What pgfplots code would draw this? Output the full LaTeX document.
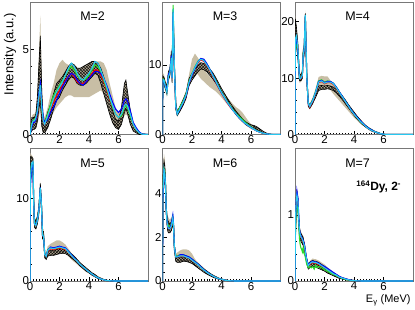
\documentclass[border=0pt]{standalone}
\usepackage{fontspec}
\setmainfont{Liberation Sans}
\usepackage{pgfplots}
\usepackage{pgfplotstable}
\pgfplotsset{compat=1.18}
\usepgfplotslibrary{groupplots,fillbetween}
\usetikzlibrary{patterns,calc}
\definecolor{tanc}{RGB}{200,190,165}
\definecolor{redc}{RGB}{255,0,0}
\definecolor{greenc}{RGB}{40,220,40}
\definecolor{bluec}{RGB}{0,0,255}
\definecolor{cyanc}{RGB}{40,200,240}
\definecolor{framec}{RGB}{120,120,120}

\pgfplotstableread{
x tlo thi blo bhi r g b c
0.0 0 0 0 0 0 0 0 0
0.1 0.2 1.0 0.2 0.9 0.5 0.6 0.4 0.5
0.2 0.3 1.2 0.3 1.0 0.7 0.8 0.7 0.8
0.3 0.3 1.2 0.3 1.0 0.8 0.9 0.7 0.8
0.4 0.4 1.4 0.4 1.2 0.9 1.0 0.9 1.0
0.5 0.6 2.5 0.8 2.2 1.2 1.3 1.3 1.4
0.6 1.0 4.5 1.5 4.0 2.0 2.2 2.4 2.2
0.7 1.5 7.0 2.0 5.8 2.8 3.0 3.0 2.9
0.8 0.4 3.0 0.5 2.5 1.5 1.5 1.8 1.6
0.9 0.1 1.2 0.1 0.9 0.8 0.9 1.0 0.8
1.0 0.1 1.0 0.1 0.7 0.6 0.7 0.7 0.6
1.2 0.6 1.6 0.4 1.3 1.0 1.2 0.9 1.1
1.4 1.0 2.4 0.9 1.8 1.5 1.8 1.3 1.6
1.6 1.3 3.0 1.5 2.4 1.9 2.3 1.6 2.1
1.8 1.6 3.8 2.0 3.0 2.3 2.6 2.0 2.5
2.0 1.8 4.2 2.2 3.2 2.6 2.9 2.4 2.8
2.2 2.0 4.4 2.6 3.4 2.9 3.2 2.8 3.1
2.4 2.2 4.2 2.9 3.7 3.2 3.5 3.1 3.5
2.6 2.3 4.1 3.2 4.0 3.4 3.8 3.4 3.9
2.8 2.3 4.0 3.4 4.2 3.6 4.0 3.6 4.2
3.0 2.2 3.9 3.3 4.1 3.4 3.8 3.5 4.0
3.2 2.2 3.8 3.0 3.9 3.1 3.5 3.2 3.6
3.4 2.2 3.7 2.9 3.9 3.0 3.3 3.0 3.3
3.6 2.2 3.7 2.9 4.0 3.0 3.2 2.9 3.2
3.8 2.2 3.8 3.0 4.1 3.1 3.3 3.1 3.4
4.0 2.2 3.9 3.2 4.2 3.3 3.5 3.3 3.6
4.2 2.3 4.1 3.4 4.3 3.6 3.8 3.5 3.9
4.4 2.4 4.3 3.6 4.3 3.8 4.1 3.7 4.3
4.6 2.5 4.3 3.5 4.2 3.8 4.0 3.7 4.2
4.8 2.6 4.3 3.0 3.9 3.5 3.7 3.6 3.8
5.0 2.4 4.2 2.4 3.4 3.1 3.2 3.3 3.3
5.2 2.0 3.8 1.8 2.8 2.6 2.7 2.9 2.8
5.4 1.4 3.0 1.2 2.1 2.1 2.2 2.4 2.2
5.6 0.9 2.3 0.7 1.4 1.6 1.6 1.9 1.7
5.8 0.6 1.6 0.4 0.9 1.2 1.2 1.5 1.2
6.0 0.6 1.3 0.3 0.8 1.0 1.0 1.3 1.0
6.2 0.8 1.6 0.6 1.6 1.2 1.1 1.5 1.2
6.4 1.1 2.3 1.3 3.0 1.7 1.6 2.0 1.7
6.5 1.2 2.6 1.5 3.2 1.8 1.7 2.1 1.8
6.6 1.1 2.3 1.3 2.6 1.7 1.6 2.0 1.7
6.8 0.7 1.6 0.6 1.4 1.2 1.1 1.4 1.2
7.0 0.3 0.8 0.2 0.6 0.6 0.6 0.7 0.6
7.2 0.1 0.4 0.1 0.3 0.3 0.3 0.4 0.3
7.4 0.0 0.2 0.0 0.1 0.1 0.1 0.15 0.1
7.6 0 0.05 0 0.05 0.02 0.02 0.03 0.02
8.0 0 0 0 0 0 0 0 0
}\tabA

\pgfplotstableread{
x tlo thi blo bhi r g b c
0.0 0 0 0 0 0 0 0 0
0.02 7.0 8.8 7.4 8.4 7.9 8.0 7.8 7.9
0.1 7.0 8.6 7.2 8.2 7.7 7.8 7.6 7.8
0.2 6.2 7.6 6.5 7.4 6.9 7.0 6.9 6.8
0.3 5.4 7.2 5.8 7.0 6.4 6.6 6.5 6.0
0.4 7.5 9.2 7.8 9.0 8.4 8.5 8.6 8.3
0.5 8.2 9.6 8.4 9.4 8.9 9.0 9.0 8.8
0.6 10.0 12.2 10.5 12.0 11.0 11.2 11.3 11.0
0.65 7.0 9.0 7.4 8.6 8.0 8.2 8.1 8.0
0.72 16.0 18.4 16.5 18.0 17.3 18.6 17.6 18.0
0.8 8.5 11.0 9.0 10.5 9.8 10.2 10.0 10.0
0.9 3.5 4.8 3.6 4.6 4.0 4.2 4.1 4.0
1.0 2.6 3.4 2.7 3.3 3.0 3.1 3.0 2.9
1.2 3.3 4.3 3.4 4.1 3.8 4.0 3.7 3.8
1.4 4.1 5.2 4.2 5.0 4.6 4.8 4.6 4.6
1.6 5.0 6.3 5.2 6.0 5.6 5.8 5.6 5.7
1.8 6.8 8.6 7.0 8.0 7.5 7.6 7.4 7.5
2.0 8.2 10.8 7.8 8.8 8.6 8.7 8.5 8.7
2.2 9.0 11.6 8.4 9.4 9.6 9.7 9.5 9.6
2.4 8.6 11.0 9.0 9.9 10.3 10.5 10.4 10.4
2.6 8.0 10.2 9.4 10.3 10.7 10.9 10.9 10.8
2.8 7.6 9.4 9.3 10.2 10.5 10.7 10.8 10.6
3.0 7.2 8.8 9.0 9.9 9.9 10.1 10.2 10.0
3.2 6.8 8.3 8.5 9.4 9.2 9.4 9.4 9.3
3.4 6.5 7.9 8.0 8.9 8.4 8.6 8.6 8.5
3.6 6.2 7.4 7.4 8.2 7.6 7.8 7.7 7.7
3.8 5.8 6.9 6.7 7.4 6.7 6.9 6.8 6.8
4.0 5.3 6.3 6.0 6.6 5.9 6.1 6.0 6.0
4.2 4.8 5.8 5.3 5.9 5.2 5.4 5.3 5.3
4.4 4.3 5.3 4.6 5.2 4.5 4.7 4.6 4.6
4.6 3.8 4.8 4.0 4.5 3.9 4.1 4.0 4.0
4.8 3.3 4.3 3.4 3.9 3.4 3.5 3.4 3.4
5.0 2.8 3.9 2.8 3.3 2.9 3.0 2.9 2.9
5.2 2.3 3.6 2.3 2.8 2.4 2.6 2.4 2.4
5.4 1.8 3.2 1.9 2.3 2.0 2.2 2.0 2.0
5.6 1.4 2.6 1.5 1.9 1.6 1.8 1.6 1.6
5.8 1.1 2.0 1.2 1.6 1.3 1.4 1.3 1.3
6.0 0.8 1.5 1.0 1.4 1.0 1.1 1.0 1.0
6.2 0.6 1.1 0.8 1.3 0.75 0.8 0.75 0.75
6.4 0.4 0.8 0.6 1.1 0.5 0.55 0.5 0.5
6.6 0.25 0.5 0.4 0.8 0.35 0.38 0.35 0.35
6.8 0.1 0.3 0.2 0.5 0.2 0.2 0.2 0.2
7.0 0.05 0.15 0.08 0.25 0.1 0.1 0.1 0.1
7.2 0.02 0.08 0.03 0.1 0.05 0.05 0.05 0.05
7.4 0 0.03 0 0.04 0.02 0.02 0.02 0.02
7.6 0 0 0 0 0 0 0 0
8.0 0 0 0 0 0 0 0 0
}\tabB

\pgfplotstableread{
x tlo thi blo bhi r g b c
0.0 0 0 0 0 0 0 0 0
0.02 14 21 15 20.5 16 15 16 17
0.1 15 19 16 19 17 16.5 17 17.5
0.2 13 16.5 13.5 16 15 14.5 14.5 15
0.3 9.2 11 9.5 10.8 10 10.2 10.1 9.9
0.4 9.3 10.8 9.5 10.5 9.9 10.1 10 10
0.5 9.8 11.5 10 11.2 10.5 10.7 10.6 10.5
0.55 12.5 15.5 13 15 14 14.3 14 14
0.62 13.5 16 14 15.5 15 15.2 15 15
0.7 19.5 22 20 21.5 20.8 21 21 21.2
0.8 9 11 9.2 10.8 10 10.2 10 10
0.9 4.8 6 5 5.8 5.4 5.6 5.5 5.5
1.0 4.5 5.4 4.6 5.2 4.8 5.0 5.0 5.0
1.2 5.4 6.6 5.5 6.2 5.9 6.1 6.0 6.0
1.4 6.8 8.2 6.6 7.5 7.4 7.6 7.5 7.5
1.6 8.5 10.2 7.8 8.6 9.2 9.5 9.4 9.3
1.8 8.7 10.4 8.0 8.7 9.4 9.7 9.6 9.5
2.0 8.5 10.3 8.0 8.6 9.0 9.3 9.2 9.1
2.2 8.4 10.3 8.1 8.7 9.2 9.5 9.4 9.3
2.4 7.9 9.6 8.0 8.6 9.2 9.4 9.4 9.3
2.6 7.2 8.8 7.8 8.4 8.9 9.1 9.1 9.0
2.8 6.6 8.0 7.4 8.0 8.2 8.4 8.4 8.3
3.0 6.0 7.2 6.8 7.5 7.5 7.6 7.6 7.5
3.2 5.4 6.5 6.2 6.9 6.7 6.8 6.8 6.7
3.4 4.8 5.8 5.5 6.2 5.9 6.0 6.0 5.9
3.6 4.2 5.1 4.8 5.4 5.1 5.2 5.2 5.1
3.8 3.6 4.5 4.1 4.7 4.3 4.4 4.4 4.3
4.0 3.0 3.8 3.4 4.0 3.6 3.7 3.7 3.6
4.2 2.5 3.2 2.8 3.3 3.0 3.0 3.1 3.0
4.4 2.0 2.7 2.2 2.7 2.4 2.4 2.5 2.4
4.6 1.6 2.2 1.7 2.1 1.9 1.9 2.0 1.9
4.8 1.2 1.7 1.3 1.6 1.4 1.5 1.5 1.4
5.0 0.9 1.3 0.9 1.2 1.0 1.1 1.1 1.0
5.2 0.6 0.9 0.6 0.9 0.7 0.8 0.8 0.7
5.4 0.4 0.6 0.4 0.6 0.5 0.5 0.5 0.5
5.6 0.2 0.4 0.2 0.4 0.3 0.3 0.3 0.3
5.8 0.1 0.2 0.1 0.2 0.15 0.15 0.15 0.15
6.0 0.02 0.08 0.02 0.08 0.05 0.05 0.05 0.05
6.2 0 0 0 0 0 0 0 0
8.0 0 0 0 0 0 0 0 0
}\tabC

\pgfplotstableread{
x tlo thi blo bhi r g b c
0.0 0 0 0 0 0 0 0 0
0.02 11 15.5 12 15 12 12.5 11 12
0.1 12.5 15.2 13 15 13.8 14 13.5 14.2
0.2 13 15 13.2 14.8 14 14.2 14 14.4
0.25 8.5 10.5 8.8 10.2 9.5 9.8 9.6 9.5
0.3 6.4 7.8 6.5 7.6 7.0 7.1 7.0 6.9
0.4 6.2 7.4 6.3 7.2 6.8 6.9 6.8 6.7
0.5 6.8 8.0 6.9 7.8 7.4 7.5 7.4 7.3
0.6 7.8 9.2 8.0 9.0 8.5 8.6 8.5 8.4
0.7 10.5 12.0 10.7 11.8 11.2 11.3 11.3 11.2
0.78 8.2 9.8 8.4 9.5 9.0 9.1 9.0 9.0
0.85 5.0 6.2 5.1 6.0 5.5 5.6 5.5 5.5
0.92 4.8 6.3 5.0 6.0 5.4 5.5 5.4 5.4
1.0 2.9 3.5 2.8 3.3 3.2 3.2 3.2 3.2
1.1 2.7 3.4 2.6 3.1 3.0 3.0 3.0 3.0
1.2 3.3 4.2 3.0 3.6 3.6 3.8 3.7 3.7
1.4 3.6 4.5 3.1 3.7 3.9 4.0 4.1 4.0
1.6 3.7 4.7 3.1 3.7 3.8 3.9 4.0 3.9
1.8 3.8 4.9 3.2 3.8 3.9 4.0 4.1 4.0
2.0 3.8 4.9 3.3 3.9 4.0 4.1 4.2 4.1
2.2 3.7 4.7 3.3 3.9 3.9 4.0 4.1 4.0
2.4 3.4 4.4 3.3 3.8 3.8 3.9 4.0 3.9
2.6 3.0 3.9 3.1 3.6 3.5 3.6 3.6 3.5
2.8 2.6 3.4 2.8 3.3 3.1 3.2 3.2 3.1
3.0 2.3 3.0 2.5 3.0 2.7 2.8 2.8 2.7
3.2 2.0 2.6 2.2 2.6 2.4 2.4 2.4 2.4
3.4 1.7 2.2 1.8 2.2 2.0 2.0 2.0 2.0
3.6 1.4 1.9 1.5 1.9 1.7 1.7 1.7 1.7
3.8 1.1 1.6 1.2 1.6 1.4 1.4 1.4 1.4
4.0 0.9 1.3 1.0 1.3 1.1 1.1 1.1 1.1
4.2 0.7 1.0 0.7 1.0 0.85 0.85 0.85 0.85
4.4 0.5 0.8 0.5 0.8 0.6 0.6 0.6 0.6
4.6 0.3 0.6 0.3 0.5 0.4 0.4 0.4 0.4
4.8 0.2 0.4 0.2 0.35 0.25 0.25 0.25 0.25
5.0 0.1 0.2 0.1 0.2 0.15 0.15 0.15 0.15
5.2 0.03 0.1 0.03 0.1 0.06 0.06 0.06 0.06
5.5 0 0.03 0 0.03 0.02 0.02 0.02 0.02
5.8 0 0 0 0 0 0 0 0
8.0 0 0 0 0 0 0 0 0
}\tabD

\pgfplotstableread{
x tlo thi blo bhi r g b c
0.0 0 0 0 0 0 0 0 0
0.03 3.5 5.0 3.6 4.8 4.0 4.2 3.8 4.0
0.1 4.6 5.8 4.7 5.5 5.0 5.1 5.0 5.1
0.15 4.5 5.6 4.6 5.3 4.9 5.0 4.9 4.9
0.2 4.0 5.0 4.1 4.8 4.4 4.5 4.4 4.4
0.25 3.0 3.8 3.1 3.6 3.3 3.4 3.3 3.3
0.3 2.6 3.1 2.6 3.0 2.7 2.8 2.8 2.7
0.35 2.3 3.0 2.3 2.8 2.5 2.6 2.5 2.5
0.4 2.2 2.9 2.2 2.7 2.4 2.5 2.4 2.4
0.5 2.2 2.8 2.2 2.6 2.4 2.5 2.4 2.4
0.6 2.3 2.9 2.3 2.7 2.5 2.6 2.6 2.5
0.7 2.6 3.1 2.6 3.0 2.8 2.8 3.0 2.9
0.75 2.3 2.8 2.3 2.7 2.5 2.5 2.6 2.5
0.8 1.4 1.8 1.4 1.7 1.6 1.6 1.6 1.6
0.9 0.95 1.25 0.9 1.15 1.1 1.1 1.1 1.1
1.0 0.95 1.3 0.85 1.1 1.1 1.15 1.1 1.1
1.2 1.0 1.4 0.85 1.1 1.15 1.2 1.2 1.15
1.4 1.0 1.45 0.9 1.1 1.15 1.2 1.2 1.15
1.6 0.95 1.45 0.9 1.1 1.1 1.15 1.15 1.1
1.8 0.9 1.4 0.85 1.05 1.05 1.1 1.1 1.05
2.0 0.8 1.25 0.8 1.0 0.95 1.0 1.0 0.95
2.2 0.7 1.0 0.7 0.9 0.85 0.88 0.88 0.85
2.4 0.6 0.85 0.6 0.8 0.75 0.77 0.78 0.75
2.6 0.5 0.72 0.5 0.68 0.62 0.64 0.65 0.62
2.8 0.4 0.6 0.4 0.56 0.5 0.52 0.52 0.5
3.0 0.32 0.48 0.32 0.46 0.4 0.41 0.42 0.4
3.2 0.25 0.38 0.25 0.36 0.31 0.32 0.32 0.31
3.5 0.15 0.25 0.15 0.24 0.2 0.2 0.2 0.2
3.8 0.08 0.15 0.08 0.14 0.11 0.11 0.11 0.11
4.0 0.05 0.1 0.05 0.1 0.08 0.08 0.08 0.08
4.3 0.02 0.05 0.02 0.05 0.03 0.03 0.03 0.03
4.6 0 0.02 0 0.02 0.01 0.01 0.01 0.01
5.0 0 0 0 0 0 0 0 0
8.0 0 0 0 0 0 0 0 0
}\tabE

\pgfplotstableread{
x tlo thi blo bhi r g b c
0.0 0 0 0 0 0 0 0 0
0.03 0.6 1.0 0.6 0.95 0.8 0.7 0.85 0.9
0.08 1.0 1.3 1.0 1.25 1.15 1.05 1.2 1.2
0.13 1.15 1.4 1.15 1.35 1.3 1.15 1.36 1.3
0.2 1.05 1.3 1.05 1.25 1.18 1.05 1.25 1.2
0.25 0.85 1.05 0.85 1.0 0.95 0.85 1.0 0.95
0.3 0.68 0.85 0.68 0.82 0.75 0.65 0.78 0.77
0.35 0.62 0.78 0.62 0.75 0.7 0.55 0.72 0.7
0.4 0.6 0.75 0.6 0.72 0.66 0.5 0.68 0.67
0.45 0.58 0.72 0.58 0.7 0.64 0.48 0.66 0.65
0.5 0.56 0.7 0.56 0.68 0.62 0.44 0.64 0.63
0.55 0.54 0.68 0.54 0.66 0.6 0.5 0.62 0.6
0.6 0.5 0.62 0.5 0.6 0.55 0.42 0.58 0.56
0.65 0.46 0.58 0.46 0.56 0.5 0.4 0.53 0.52
0.7 0.38 0.5 0.38 0.48 0.43 0.36 0.46 0.44
0.75 0.32 0.42 0.32 0.4 0.36 0.3 0.38 0.37
0.8 0.26 0.36 0.26 0.34 0.3 0.25 0.32 0.31
0.9 0.18 0.27 0.18 0.25 0.22 0.2 0.24 0.23
1.0 0.2 0.3 0.2 0.28 0.25 0.22 0.27 0.26
1.1 0.22 0.32 0.22 0.3 0.27 0.2 0.29 0.28
1.2 0.22 0.34 0.22 0.31 0.28 0.22 0.3 0.29
1.3 0.21 0.33 0.21 0.3 0.27 0.18 0.29 0.28
1.4 0.21 0.33 0.21 0.3 0.27 0.24 0.29 0.28
1.5 0.2 0.32 0.2 0.29 0.26 0.2 0.28 0.27
1.6 0.19 0.31 0.19 0.28 0.25 0.22 0.27 0.26
1.8 0.17 0.28 0.17 0.25 0.22 0.2 0.24 0.23
2.0 0.15 0.25 0.15 0.22 0.2 0.17 0.22 0.2
2.2 0.12 0.21 0.12 0.19 0.17 0.15 0.19 0.17
2.4 0.1 0.17 0.1 0.15 0.14 0.12 0.16 0.14
2.6 0.08 0.14 0.08 0.12 0.11 0.1 0.13 0.11
2.8 0.06 0.11 0.06 0.1 0.09 0.08 0.1 0.09
3.0 0.04 0.08 0.04 0.07 0.06 0.06 0.07 0.06
3.2 0.03 0.06 0.03 0.05 0.045 0.04 0.05 0.045
3.5 0.015 0.035 0.015 0.03 0.025 0.02 0.03 0.025
3.8 0.005 0.015 0.005 0.015 0.01 0.01 0.012 0.01
4.2 0 0.005 0 0.005 0.003 0.003 0.003 0.003
4.6 0 0 0 0 0 0 0 0
8.0 0 0 0 0 0 0 0 0
}\tabF

\newcommand{\panel}[1]{%
\addplot[draw=none,name path=tlo] table[x=x,y=tlo]{#1};
\addplot[draw=none,name path=thi] table[x=x,y=thi]{#1};
\addplot[tanc,draw=none] fill between[of=tlo and thi];
\addplot[draw=none,name path=blo] table[x=x,y=blo]{#1};
\addplot[draw=none,name path=bhi] table[x=x,y=bhi]{#1};
\addplot[tanc!85!black,draw=none] fill between[of=blo and bhi];
\addplot[pattern=crosshatch,pattern color=black,draw=none] fill between[of=blo and bhi];
\addplot[black,line width=0.6bp] table[x=x,y=blo]{#1};
\addplot[black,line width=0.6bp] table[x=x,y=bhi]{#1};
\addplot[redc,line width=1.1bp] table[x=x,y=r]{#1};
\addplot[greenc,line width=1.1bp] table[x=x,y=g]{#1};
\addplot[bluec,line width=1.1bp] table[x=x,y=b]{#1};
\addplot[cyanc,line width=1.1bp] table[x=x,y=c]{#1};
}
\newcommand{\mlab}[1]{\node[font=\fontsize{12.5}{13}\selectfont] at (rel axis cs:0.53,0.89) {#1};}

\begin{document}
\begin{tikzpicture}
\begin{groupplot}[
  group style={group size=3 by 2, horizontal sep=14.5bp, vertical sep=14bp},
  width=118bp, height=132.5bp, scale only axis,
  xmin=0, xmax=8, ymin=0,
  xtick={0,2,4,6}, minor x tick num=9, minor y tick num=4,
  tick align=inside, xtick pos=left, ytick pos=left,
  major tick length=4bp, minor tick length=2bp,
  axis line style={framec, line width=0.8bp},
  tick style={black, line width=0.5bp},
  /pgf/number format/assume math mode=true,
  tick label style={font=\fontsize{11.5}{12}\selectfont, inner sep=0.8bp},
  scaled y ticks=false,
  clip mode=individual,
  no markers, every axis plot/.append style={sharp plot},
]
\nextgroupplot[ymax=7.8, ytick={0,5}]
\panel{\tabA}
\mlab{M=2}
\coordinate (tl) at (rel axis cs:0,1);
\node[rotate=90, anchor=east, font=\fontsize{13}{14}\selectfont] at ($(rel axis cs:0,1)+(-20bp,-8bp)$) {Intensity (a.u.)};
\nextgroupplot[ymax=19, ytick={0,10}]
\panel{\tabB}
\mlab{M=3}
\nextgroupplot[ymax=23.5, ytick={0,10,20}]
\panel{\tabC}
\mlab{M=4}
\nextgroupplot[ymax=16, ytick={0,10}]
\panel{\tabD}
\mlab{M=5}
\nextgroupplot[ymax=6.05, ytick={0,2,4}]
\panel{\tabE}
\mlab{M=6}
\nextgroupplot[ymax=2.0, ytick={0,1}]
\panel{\tabF}
\mlab{M=7}
\node[font=\bfseries\fontsize{12}{13}\selectfont] at (rel axis cs:0.71,0.71) {\textsuperscript{164}Dy, 2\textsuperscript{-}};
\node[anchor=east, font=\fontsize{11}{12}\selectfont] at ($(rel axis cs:1,0)+(1bp,-19bp)$) {E\textsubscript{γ} (MeV)};
\coordinate (br) at (rel axis cs:1,0);
\end{groupplot}
\pgfresetboundingbox
\path[use as bounding box] ($(tl)+(-30bp,2bp)$) rectangle ($(br)+(2bp,-28bp)$);
\end{tikzpicture}
\end{document}
